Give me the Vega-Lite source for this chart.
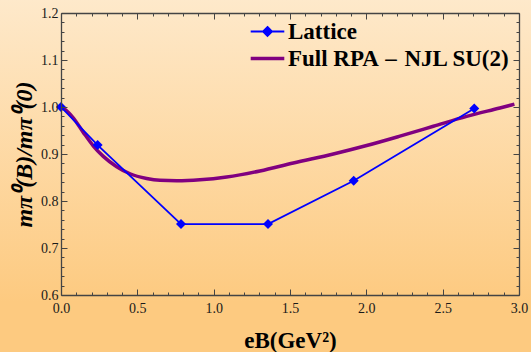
{
  "$schema": "https://vega.github.io/schema/vega-lite/v6.json",
  "width": 458,
  "height": 282,
  "autosize": {"type": "none"},
  "padding": {"left": 61, "top": 13, "right": 12, "bottom": 57},
  "background": "#fdd9a4",
  "config": {"view": {"stroke": null}, "font": "Liberation Serif", "axis": {"grid": false}},
  "datasets": {
    "lattice": [
      {"series": "Lattice", "eB": 0.0, "ratio": 1.0},
      {"series": "Lattice", "eB": 0.24, "ratio": 0.919},
      {"series": "Lattice", "eB": 0.786, "ratio": 0.751},
      {"series": "Lattice", "eB": 1.356, "ratio": 0.751},
      {"series": "Lattice", "eB": 1.917, "ratio": 0.843},
      {"series": "Lattice", "eB": 2.707, "ratio": 0.997}
    ],
    "njl": [
      {"series": "Full RPA \u200a–\u200a NJL SU(2)", "eB": 0.0, "ratio": 1.0},
      {"series": "Full RPA \u200a–\u200a NJL SU(2)", "eB": 0.03, "ratio": 0.994},
      {"series": "Full RPA \u200a–\u200a NJL SU(2)", "eB": 0.08, "ratio": 0.977},
      {"series": "Full RPA \u200a–\u200a NJL SU(2)", "eB": 0.146, "ratio": 0.946},
      {"series": "Full RPA \u200a–\u200a NJL SU(2)", "eB": 0.212, "ratio": 0.917},
      {"series": "Full RPA \u200a–\u200a NJL SU(2)", "eB": 0.277, "ratio": 0.895},
      {"series": "Full RPA \u200a–\u200a NJL SU(2)", "eB": 0.365, "ratio": 0.873},
      {"series": "Full RPA \u200a–\u200a NJL SU(2)", "eB": 0.452, "ratio": 0.858},
      {"series": "Full RPA \u200a–\u200a NJL SU(2)", "eB": 0.561, "ratio": 0.848},
      {"series": "Full RPA \u200a–\u200a NJL SU(2)", "eB": 0.648, "ratio": 0.844},
      {"series": "Full RPA \u200a–\u200a NJL SU(2)", "eB": 0.758, "ratio": 0.843},
      {"series": "Full RPA \u200a–\u200a NJL SU(2)", "eB": 0.91, "ratio": 0.845},
      {"series": "Full RPA \u200a–\u200a NJL SU(2)", "eB": 1.085, "ratio": 0.851},
      {"series": "Full RPA \u200a–\u200a NJL SU(2)", "eB": 1.303, "ratio": 0.864},
      {"series": "Full RPA \u200a–\u200a NJL SU(2)", "eB": 1.522, "ratio": 0.881},
      {"series": "Full RPA \u200a–\u200a NJL SU(2)", "eB": 1.784, "ratio": 0.9},
      {"series": "Full RPA \u200a–\u200a NJL SU(2)", "eB": 2.002, "ratio": 0.918},
      {"series": "Full RPA \u200a–\u200a NJL SU(2)", "eB": 2.22, "ratio": 0.938},
      {"series": "Full RPA \u200a–\u200a NJL SU(2)", "eB": 2.439, "ratio": 0.959},
      {"series": "Full RPA \u200a–\u200a NJL SU(2)", "eB": 2.657, "ratio": 0.98},
      {"series": "Full RPA \u200a–\u200a NJL SU(2)", "eB": 2.875, "ratio": 0.998},
      {"series": "Full RPA \u200a–\u200a NJL SU(2)", "eB": 2.97, "ratio": 1.006}
    ]
  },
  "layer": [
    {
      "data": {"values": [{}]},
      "mark": {
        "type": "rect",
        "clip": false,
        "fill": {
          "gradient": "linear", "x1": 0, "y1": 0, "x2": 0, "y2": 1,
          "stops": [
            {"offset": 0, "color": "#feeacd"},
            {"offset": 0.83, "color": "#fdca80"},
            {"offset": 1, "color": "#fdca80"}
          ]
        }
      },
      "encoding": {
        "x": {
          "datum": -0.45, "type": "quantitative",
          "scale": {"domain": [0, 3], "nice": false, "zero": false},
          "axis": {
            "orient": "bottom", "zindex": 1,
            "values": [0,0.1,0.2,0.3,0.4,0.5,0.6,0.7,0.8,0.9,1.0,1.1,1.2,1.3,1.4,1.5,1.6,1.7,1.8,1.9,2.0,2.1,2.2,2.3,2.4,2.5,2.6,2.7,2.8,2.9,3.0],
            "labelExpr": "abs(datum.value*2-round(datum.value*2))<0.001 ? format(datum.value,'.1f') : ''",
            "tickSize": {"condition": {"test": "abs(datum.value*2-round(datum.value*2))<0.001", "value": -6}, "value": -3},
            "labelPadding": 12, "labelOverlap": false, "labelFlush": false,
            "labelFont": "Liberation Serif", "labelFontSize": 14, "labelColor": "#1a1a1a",
            "domainColor": "#444444", "domainWidth": 1.3, "tickColor": "#444444", "tickWidth": 1,
            "title": "eB(GeV²)", "titleFont": "Liberation Serif", "titleFontSize": 23, "titleFontWeight": "bold", "titleColor": "black", "titlePadding": 11
          }
        },
        "x2": {"datum": 3.15},
        "y": {
          "datum": 0.45, "type": "quantitative",
          "scale": {"domain": [0.6, 1.2], "nice": false, "zero": false},
          "axis": {
            "orient": "left", "zindex": 1,
            "values": [0.6,0.62,0.64,0.66,0.68,0.7,0.72,0.74,0.76,0.78,0.8,0.82,0.84,0.86,0.88,0.9,0.92,0.94,0.96,0.98,1.0,1.02,1.04,1.06,1.08,1.1,1.12,1.14,1.16,1.18,1.2],
            "labelExpr": "abs(datum.value*10-round(datum.value*10))<0.001 ? format(datum.value,'.1f') : ''",
            "tickSize": {"condition": {"test": "abs(datum.value*10-round(datum.value*10))<0.001", "value": -6}, "value": -3},
            "labelPadding": 9, "labelOverlap": false, "labelFlush": false,
            "labelFont": "Liberation Serif", "labelFontSize": 14, "labelColor": "#1a1a1a",
            "domainColor": "#444444", "domainWidth": 1.3, "tickColor": "#444444", "tickWidth": 1,
            "title": "mπ⁰(B)/mπ⁰(0)", "titleFont": "Liberation Serif", "titleFontSize": 24, "titleFontWeight": "bold", "titleFontStyle": "italic", "titleColor": "black", "titlePadding": 4
          }
        },
        "y2": {"datum": 1.25}
      }
    },
    {
      "data": {"name": "njl"},
      "mark": {"type": "line", "strokeWidth": 3.5, "interpolate": "monotone"},
      "encoding": {
        "x": {
          "field": "eB", "type": "quantitative",
          "scale": {"domain": [0, 3], "nice": false, "zero": false},
          "axis": {
            "orient": "top", "zindex": 1, "labels": false, "title": null,
            "values": [0,0.1,0.2,0.3,0.4,0.5,0.6,0.7,0.8,0.9,1.0,1.1,1.2,1.3,1.4,1.5,1.6,1.7,1.8,1.9,2.0,2.1,2.2,2.3,2.4,2.5,2.6,2.7,2.8,2.9,3.0],
            "tickSize": {"condition": {"test": "abs(datum.value*2-round(datum.value*2))<0.001", "value": -6}, "value": -3},
            "domainColor": "#444444", "domainWidth": 1.3, "tickColor": "#444444", "tickWidth": 1
          }
        },
        "y": {
          "field": "ratio", "type": "quantitative",
          "scale": {"domain": [0.6, 1.2], "nice": false, "zero": false},
          "axis": {
            "orient": "right", "zindex": 1, "labels": false, "title": null,
            "values": [0.6,0.62,0.64,0.66,0.68,0.7,0.72,0.74,0.76,0.78,0.8,0.82,0.84,0.86,0.88,0.9,0.92,0.94,0.96,0.98,1.0,1.02,1.04,1.06,1.08,1.1,1.12,1.14,1.16,1.18,1.2],
            "tickSize": {"condition": {"test": "abs(datum.value*10-round(datum.value*10))<0.001", "value": -6}, "value": -3},
            "domainColor": "#444444", "domainWidth": 1.3, "tickColor": "#444444", "tickWidth": 1
          }
        },
        "color": {
          "field": "series", "type": "nominal",
          "scale": {"domain": ["Lattice", "Full RPA \u200a–\u200a NJL SU(2)"], "range": ["#0000ff", "#800080"]},
          "legend": {
            "orient": "none", "legendX": 195, "legendY": 7, "title": null, "padding": 0,
            "labelFont": "Liberation Serif", "labelFontWeight": "bold", "labelFontSize": 23, "labelColor": "black", "labelLimit": 0,
            "labelOffset": 9, "rowPadding": 3, "symbolSize": 441, "symbolType": "M-1.6,0H1.6",
            "encode": {
              "symbols": {
                "update": {
                  "shape": {"signal": "datum.value === 'Lattice' ? 'M-1.6,0H1.6M0,-0.43L0.43,0L0,0.43L-0.43,0Z' : 'M-1.6,0H1.6'"},
                  "strokeWidth": {"signal": "datum.value === 'Lattice' ? 1.8 : 3.5"},
                  "fill": {"signal": "datum.value === 'Lattice' ? '#0000ff' : 'transparent'"},
                  "stroke": {"signal": "datum.value === 'Lattice' ? '#0000ff' : '#800080'"},
                  "opacity": {"value": 1}
                }
              }
            }
          }
        }
      }
    },
    {
      "data": {"name": "lattice"},
      "mark": {"type": "line", "strokeWidth": 1.8, "point": {"shape": "diamond", "size": 100, "filled": true, "opacity": 1}},
      "encoding": {
        "x": {"field": "eB", "type": "quantitative", "scale": {"domain": [0, 3], "nice": false, "zero": false}, "axis": null},
        "y": {"field": "ratio", "type": "quantitative", "scale": {"domain": [0.6, 1.2], "nice": false, "zero": false}, "axis": null},
        "color": {"field": "series", "type": "nominal"}
      }
    }
  ],
  "resolve": {"axis": {"x": "independent", "y": "independent"}}
}
